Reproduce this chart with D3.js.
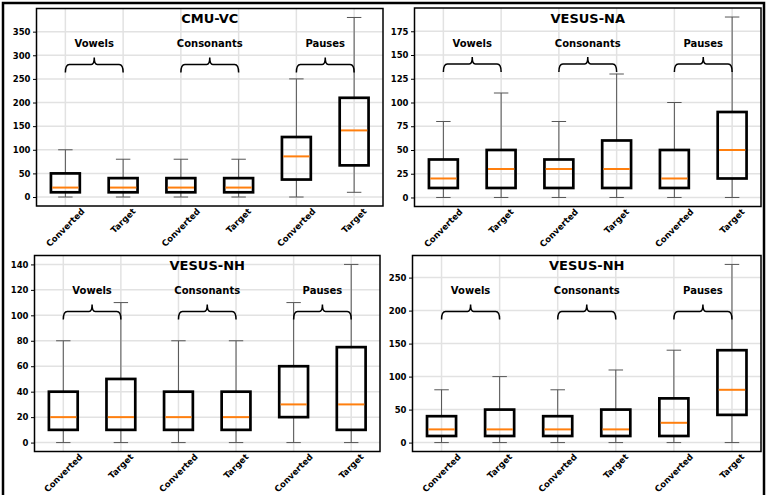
<!DOCTYPE html>
<html>
<head>
<meta charset="utf-8">
<script src="https://cdn.jsdelivr.net/npm/d3@7"></script>
<style>
  body { margin: 0; background: #fff; }
  text { font-family: "DejaVu Sans", sans-serif; font-weight: bold; }
</style>
</head>
<body>
<div id="chart"></div>
<script>
// Box categories, shared by every panel
const categories = ["Converted", "Target", "Converted", "Target", "Converted", "Target"];
const groups = ["Vowels", "Consonants", "Pauses"];
const titles = ["CMU-VC", "VESUS-NA", "VESUS-NH", "VESUS-NH"];

// Each box: [whisker low, q1, median, q3, whisker high]
const cmuVC = [[0, 10, 20, 50, 100], [0, 10, 20, 40, 80], [0, 10, 20, 40, 80],
               [0, 10, 20, 40, 80], [0, 37, 86, 127, 250], [10, 67, 141, 210, 380]];
const vesusNA = [[0, 10, 20, 40, 80], [0, 10, 30, 50, 110], [0, 10, 30, 40, 80],
                 [0, 10, 30, 60, 130], [0, 10, 20, 50, 100], [0, 20, 50, 90, 190]];
const vesusNH = [[0, 10, 20, 40, 80], [0, 10, 20, 50, 110], [0, 10, 20, 40, 80],
                 [0, 10, 20, 40, 80], [0, 20, 30, 60, 110], [0, 10, 30, 75, 140]];
const vesusNH2 = [[0, 10, 20, 40, 80], [0, 10, 20, 50, 100], [0, 10, 20, 40, 80],
                  [0, 10, 20, 50, 110], [0, 10, 30, 67, 140], [0, 42, 80, 140, 270]];

// Y tick labels per panel
const ticksCMU = [0, 50, 100, 150, 200, 250, 300, 350];
const ticksNA = [0, 25, 50, 75, 100, 125, 150, 175];
const ticksNH = [0, 20, 40, 60, 80, 100, 120, 140];
const ticksNH2 = [0, 50, 100, 150, 200, 250];

const W = 766, H = 495;
const svg = d3.select("#chart").append("svg")
    .attr("width", W)
    .attr("height", H);

// Panel frames (pixel layout of the four sub-plots)
const panels = [
  { box: [36.5, 8.5, 383, 206], data: cmuVC, ticks: ticksCMU, title: titles[0] },
  { box: [414.5, 8, 761, 206.5], data: vesusNA, ticks: ticksNA, title: titles[1] },
  { box: [34.5, 255.5, 380, 451.5], data: vesusNH, ticks: ticksNH, title: titles[2] },
  { box: [412.5, 255.5, 761, 451.5], data: vesusNH2, ticks: ticksNH2, title: titles[3] }
];

panels.forEach(p => drawPanel(p));

// Outer border of the figure
svg.append("rect")
    .attr("x", 3).attr("y", 3)
    .attr("width", 761).attr("height", 496)
    .attr("fill", "none")
    .attr("stroke", "#000")
    .attr("stroke-width", 2.5);

function drawPanel(p) {
  const [x0, y0, x1, y1] = p.box;
  const g = svg.append("g");

  // matplotlib-like autoscale: 5% margin around data range
  const lo = d3.min(p.data, d => d[0]), hi = d3.max(p.data, d => d[4]);
  const m = (hi - lo) * 0.05;
  const y = d3.scaleLinear().domain([lo - m, hi + m]).range([y1, y0]);
  const x = d3.scalePoint().domain(d3.range(categories.length)).range([x0, x1]).padding(0.5);
  const step = x.step();
  const bw = step * 0.5, cw = step * 0.25;

  // grid
  g.selectAll("line.hg").data(p.ticks).join("line")
      .attr("x1", x0).attr("x2", x1)
      .attr("y1", d => y(d)).attr("y2", d => y(d))
      .attr("stroke", "#e2e2e2").attr("stroke-width", 1.5);
  g.selectAll("line.vg").data(d3.range(categories.length)).join("line")
      .attr("x1", d => x(d)).attr("x2", d => x(d))
      .attr("y1", y0).attr("y2", y1)
      .attr("stroke", "#e2e2e2").attr("stroke-width", 1.5);

  // boxes
  const b = g.selectAll("g.bx").data(p.data).join("g");
  b.append("line") // lower whisker
      .attr("x1", (d, i) => x(i)).attr("x2", (d, i) => x(i))
      .attr("y1", d => y(d[0])).attr("y2", d => y(d[1]))
      .attr("stroke", "#555").attr("stroke-width", 1);
  b.append("line") // upper whisker
      .attr("x1", (d, i) => x(i)).attr("x2", (d, i) => x(i))
      .attr("y1", d => y(d[3])).attr("y2", d => y(d[4]))
      .attr("stroke", "#555").attr("stroke-width", 1);
  [0, 4].forEach(k => {
    b.append("line")
        .attr("x1", (d, i) => x(i) - cw / 2).attr("x2", (d, i) => x(i) + cw / 2)
        .attr("y1", d => y(d[k])).attr("y2", d => y(d[k]))
        .attr("stroke", "#555").attr("stroke-width", 1);
  });
  b.append("rect")
      .attr("x", (d, i) => x(i) - bw / 2)
      .attr("width", bw)
      .attr("y", d => y(d[3]))
      .attr("height", d => y(d[1]) - y(d[3]))
      .attr("fill", "none")
      .attr("stroke", "#000").attr("stroke-width", 2.7);
  b.append("line")
      .attr("x1", (d, i) => x(i) - bw / 2 + 1.3).attr("x2", (d, i) => x(i) + bw / 2 - 1.3)
      .attr("y1", d => y(d[2])).attr("y2", d => y(d[2]))
      .attr("stroke", "#ff7f0e").attr("stroke-width", 2);

  // braces and group labels
  groups.forEach((name, gi) => {
    const a = x(gi * 2), c = x(gi * 2 + 1), mid = (a + c) / 2;
    const yb = y0 + 56;
    g.append("path")
        .attr("d", `M${a},${yb + 8} Q${a},${yb} ${a + 4},${yb} L${mid - 3},${yb}
                    Q${mid},${yb} ${mid},${yb - 7} Q${mid},${yb} ${mid + 3},${yb}
                    L${c - 4},${yb} Q${c},${yb} ${c},${yb + 8}`)
        .attr("fill", "none").attr("stroke", "#000").attr("stroke-width", 1.5);
    g.append("text")
        .attr("x", mid).attr("y", y0 + 38.5)
        .attr("text-anchor", "middle")
        .attr("font-size", 10)
        .text(name);
  });

  // title
  g.append("text")
      .attr("x", (x0 + x1) / 2).attr("y", y0 + 14.5)
      .attr("text-anchor", "middle")
      .attr("font-size", 13)
      .text(p.title);

  // y axis
  const ax = g.append("g")
      .attr("transform", `translate(${x0},0)`)
      .call(d3.axisLeft(y).tickValues(p.ticks).tickSize(3.5).tickPadding(2.5));
  ax.select(".domain").remove();
  ax.selectAll("text").attr("font-size", 8.5).attr("fill", "#000")
      .style("font-family", "DejaVu Sans").style("font-weight", "bold");

  // x tick labels rotated 45 degrees, centred on tick like matplotlib
  categories.forEach((name, i) => {
    const t = g.append("text")
        .attr("font-size", 8.6)
        .attr("text-anchor", "middle")
        .attr("dominant-baseline", "central")
        .text(name);
    const L = t.node().getComputedTextLength();
    const hgt = (L + 8) / Math.SQRT2;
    t.attr("transform", `translate(${x(i)},${y1 + 1 + hgt / 2}) rotate(-45)`);
  });

  // frame
  g.append("rect")
      .attr("x", x0).attr("y", y0)
      .attr("width", x1 - x0).attr("height", y1 - y0)
      .attr("fill", "none").attr("stroke", "#000").attr("stroke-width", 1.5);
}
</script>
</body>
</html>
